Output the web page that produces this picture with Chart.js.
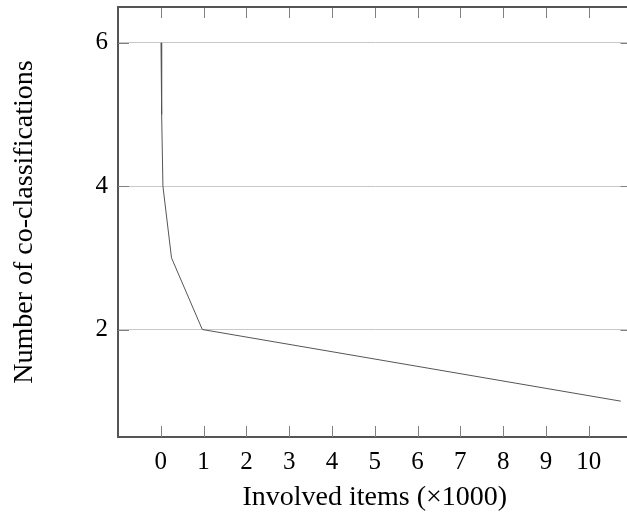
<!DOCTYPE html>
<html>
<head>
<meta charset="utf-8">
<script src="https://cdn.jsdelivr.net/npm/chart.js@4/dist/chart.umd.min.js"></script>
<style>
    html, body { margin: 0; padding: 0; background: #fff; overflow: hidden; }
    #wrap { width: 640px; height: 515px; }
</style>
</head>
<body>
<div id="wrap"><canvas id="chart"></canvas></div>
<script>
// Data
const involvedItems = [0.005, 0.02, 0.05, 0.25, 0.97, 10.75];   // x, in thousands
const coClassifications = [6, 5, 4, 3, 2, 1];                   // y
const xTicks = [0, 1, 2, 3, 4, 5, 6, 7, 8, 9, 10];
const yTicks = [2, 4, 6];

const serif = '"Liberation Serif", "DejaVu Serif", serif';

// Inward tick marks on all four sides plus the top/right frame
const frameTicks = {
    id: 'frameTicks',
    afterDraw(chart) {
        const { ctx, chartArea: a, scales } = chart;
        const len = 11;
        ctx.save();
        ctx.strokeStyle = '#808080';
        ctx.lineWidth = 1;
        ctx.beginPath();
        xTicks.forEach(v => {
            const px = Math.round(scales.x.getPixelForValue(v)) + 0.5;
            ctx.moveTo(px, a.bottom);
            ctx.lineTo(px, a.bottom - len);
            ctx.moveTo(px, a.top);
            ctx.lineTo(px, a.top + len);
        });
        yTicks.forEach(v => {
            const py = Math.round(scales.y.getPixelForValue(v)) + 0.5;
            ctx.moveTo(a.left, py);
            ctx.lineTo(a.left + len, py);
            ctx.moveTo(a.right, py);
            ctx.lineTo(a.right - len, py);
        });
        ctx.stroke();
        ctx.strokeStyle = '#555';
        ctx.lineWidth = 2;
        ctx.beginPath();
        ctx.moveTo(a.left, a.top);
        ctx.lineTo(a.right, a.top);
        ctx.lineTo(a.right, a.bottom);
        ctx.stroke();
        ctx.restore();
    }
};

const points = involvedItems.map((x, i) => ({ x: x, y: coClassifications[i] }));

new Chart(document.getElementById('chart'), {
    type: 'scatter',
    data: {
        datasets: [{
            data: points,
            showLine: true,
            borderColor: '#555',
            borderWidth: 1,
            pointRadius: 0,
            tension: 0
        }]
    },
    options: {
        responsive: true,
        maintainAspectRatio: false,
        animation: false,
        layout: { padding: { top: 7, right: 8.5, left: 0, bottom: 0 } },
        plugins: {
            legend: { display: false },
            tooltip: { enabled: false }
        },
        scales: {
            x: {
                type: 'linear',
                min: -1,
                max: 11,
                afterBuildTicks: scale => { scale.ticks = xTicks.map(v => ({ value: v })); },
                afterFit: scale => {
                    scale.height = 78;
                    scale.paddingLeft = 0;
                    scale.paddingRight = 0;
                },
                grid: { display: false, drawTicks: false },
                border: { display: true, color: '#555', width: 2 },
                ticks: {
                    padding: 10,
                    color: '#000',
                    maxRotation: 0,
                    font: { family: serif, size: 25 }
                },
                title: {
                    display: true,
                    text: 'Involved items (×1000)',
                    color: '#000',
                    font: { family: serif, size: 28 },
                    padding: { top: 4, bottom: 1 }
                }
            },
            y: {
                type: 'linear',
                min: 0.5,
                max: 6.5,
                afterBuildTicks: scale => { scale.ticks = yTicks.map(v => ({ value: v })); },
                afterFit: scale => {
                    scale.width = 118;
                    scale.paddingTop = 0;
                    scale.paddingBottom = 0;
                },
                grid: { color: '#c8c8c8', lineWidth: 1, drawTicks: false },
                border: { display: true, color: '#555', width: 2 },
                ticks: {
                    padding: 10,
                    color: '#000',
                    font: { family: serif, size: 25 }
                },
                title: {
                    display: true,
                    text: 'Number of co-classifications',
                    color: '#000',
                    font: { family: serif, size: 28 },
                    padding: { top: 8, bottom: 0 }
                }
            }
        }
    },
    plugins: [frameTicks]
});
</script>
</body>
</html>
